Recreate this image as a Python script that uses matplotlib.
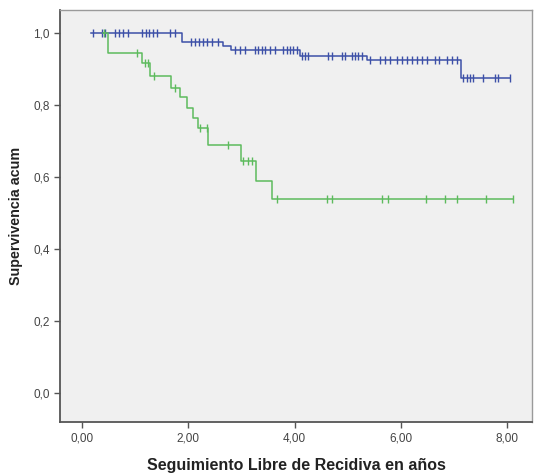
import matplotlib
matplotlib.use('Agg')

import numpy as np
import matplotlib.pyplot as plt
from matplotlib.ticker import FuncFormatter

plt.rcParams['font.family'] = ['Liberation Sans', 'DejaVu Sans']

# Group 1 (blue): step times and survival after each step
blue_times = [0.17, 1.88, 2.65, 2.80, 4.10, 5.37, 7.14]
blue_surv = [1.0, 0.976, 0.965, 0.953, 0.936, 0.925, 0.875]
blue_end = 8.06
blue_cens = [0.21, 0.38, 0.43, 0.62, 0.70, 0.77, 0.87, 1.13, 1.21, 1.26, 1.34, 1.41,
             1.66, 1.75, 2.05, 2.12, 2.20, 2.28, 2.36, 2.45, 2.55, 2.88, 2.98, 3.07,
             3.26, 3.31, 3.39, 3.45, 3.54, 3.63, 3.79, 3.86, 3.92, 3.97, 4.05, 4.14,
             4.20, 4.26, 4.63, 4.71, 4.90, 4.95, 5.08, 5.14, 5.20, 5.27, 5.42, 5.61,
             5.71, 5.80, 5.93, 6.03, 6.12, 6.21, 6.30, 6.40, 6.50, 6.65, 6.72, 6.87,
             6.97, 7.06, 7.18, 7.25, 7.31, 7.36, 7.55, 7.78, 7.83, 8.06]

# Group 2 (green)
green_times = [0.40, 0.48, 1.12, 1.27, 1.67, 1.85, 1.97, 2.09, 2.19, 2.37, 3.00, 3.28, 3.58]
green_surv = [1.0, 0.944, 0.917, 0.880, 0.847, 0.822, 0.792, 0.764, 0.735, 0.689, 0.644, 0.589, 0.54]
green_end = 8.12
green_cens = [0.41, 1.03, 1.19, 1.24, 1.36, 1.75, 2.22, 2.35, 2.75, 3.03, 3.13, 3.20,
              3.67, 4.62, 4.71, 5.64, 5.75, 6.47, 6.83, 7.05, 7.60, 8.12]

x_ticks = [0, 2, 4, 6, 8]
y_ticks = [0.0, 0.2, 0.4, 0.6, 0.8, 1.0]


def surv_at(times, surv, t):
    idx = np.searchsorted(times, t, side='right') - 1
    return np.array(surv)[np.clip(idx, 0, None)]


fig = plt.figure(figsize=(5.34, 4.76), dpi=100)
ax = fig.add_axes([60 / 534, 1 - 422 / 476, 472 / 534, 412 / 476])
ax.set_facecolor('#f0f0f0')

for times, surv, end, cens, color in [
    (blue_times, blue_surv, blue_end, blue_cens, '#3d50a8'),
    (green_times, green_surv, green_end, green_cens, '#5dbb5d'),
]:
    xs = list(times) + [end]
    ys = list(surv) + [surv[-1]]
    ax.step(xs, ys, where='post', color=color, lw=1.1)
    cens = np.array(cens)
    ax.plot(cens, surv_at(times, surv, cens), linestyle='none', marker='|',
            ms=6, mew=1.0, color=color)

ax.set_xlim(-0.415, 8.47)
ax.set_ylim(-0.081, 1.064)
ax.set_xticks(x_ticks)
ax.set_yticks(y_ticks)
ax.xaxis.set_major_formatter(FuncFormatter(lambda v, p: f'{v:.2f}'.replace('.', ',')))
ax.yaxis.set_major_formatter(FuncFormatter(lambda v, p: f'{v:.1f}'.replace('.', ',')))
ax.tick_params(axis='both', direction='out', length=4, width=1, colors='#555555',
               labelsize=8.5, labelcolor='#444444')

for side in ['left', 'bottom']:
    ax.spines[side].set_color('#555555')
    ax.spines[side].set_linewidth(1.3)
for side in ['top', 'right']:
    ax.spines[side].set_color('#9a9a9a')
    ax.spines[side].set_linewidth(1.0)

ax.set_xlabel('Seguimiento Libre de Recidiva en años', fontsize=11.5, fontweight='bold',
              color='#222222', labelpad=10)
ax.set_ylabel('Supervivencia acum', fontsize=10.3, fontweight='bold', color='#222222',
              labelpad=7)

fig.savefig('out.png', dpi=100)
